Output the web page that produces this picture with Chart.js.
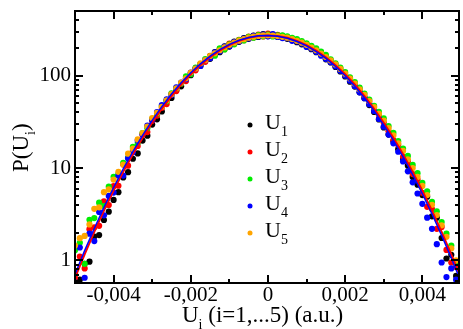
<!DOCTYPE html>
<html>
<head>
<meta charset="utf-8">
<script src="https://cdn.jsdelivr.net/npm/chart.js@4"></script>
<style>
  body { margin: 0; background: #fff; }
  canvas { display: block; }
</style>
</head>
<body>
<canvas id="chart" width="463" height="329"></canvas>
<script>
// histogram bins (a.u.)
const binX = [
  -0.005, -0.004875, -0.00475, -0.004625, -0.0045, -0.004375, -0.00425, -0.004125,
  -0.004, -0.003875, -0.00375, -0.003625, -0.0035, -0.003375, -0.00325, -0.003125,
  -0.003, -0.002875, -0.00275, -0.002625, -0.0025, -0.002375, -0.00225, -0.002125,
  -0.002, -0.001875, -0.00175, -0.001625, -0.0015, -0.001375, -0.00125, -0.001125,
  -0.001, -0.000875, -0.00075, -0.000625, -0.0005, -0.000375, -0.00025, -0.000125,
  0,
  0.000125, 0.00025, 0.000375, 0.0005, 0.000625, 0.00075, 0.000875, 0.001,
  0.001125, 0.00125, 0.001375, 0.0015, 0.001625, 0.00175, 0.001875, 0.002,
  0.002125, 0.00225, 0.002375, 0.0025, 0.002625, 0.00275, 0.002875, 0.003,
  0.003125, 0.00325, 0.003375, 0.0035, 0.003625, 0.00375, 0.003875, 0.004,
  0.004125, 0.00425, 0.004375, 0.0045, 0.004625, 0.00475, 0.004875, 0.005
];

// P(U_i) for each series
const u1 = [
  0.72, 0.62, 0.92, 0.97, 1.81, 1.88, 2.74, 3.37,
  4.52, 5.48, 7.92, 9.02, 12.6, 14.4, 19.8, 22.4, 29.5, 33.6,
  40.9, 53.9, 57.4, 69.6, 76.5, 93.5, 101, 119, 127, 144,
  152, 180, 179, 207, 206, 234, 232, 254, 250, 271, 262, 281, 268, 277, 264, 259, 250, 252, 230, 218, 218, 193, 179, 168, 150,
  139, 124, 111, 98, 86, 76, 66, 57, 48, 40.5,
  33.5, 27.5, 23, 19.5, 16, 12.5, 10.6, 8.0, 6.6, 5.1,
  4.9, 3.0, 2.9, 1.75, 1.05, 1.15, 0.68, 0.6
];
const u2 = [
  0.65, 1.10, 0.82, 2.18, 2.28, 2.37, 4.35, 3.97,
  6.38, 6.43, 10.9, 10.6, 15.4, 17.3, 22.7, 24.5, 32.4, 36.9,
  44.8, 49.2, 62.9, 68.0, 82.0, 87.3, 106, 114, 133, 141,
  164, 168, 193, 193, 222, 220, 244, 242, 264, 259, 278, 265, 284, 269, 276, 269, 260, 244, 242, 230, 208, 206, 189, 178, 162,
  145, 131, 118, 102, 93, 79, 71, 59, 52, 43,
  37.5, 31, 25, 20, 17.8, 13.2, 11.8, 8.6, 7.5, 5.4,
  3.8, 3.6, 2.2, 2.3, 1.3, 0.95, 0.85, 0.7
];
const u3 = [
  1.29, 1.55, 0.92, 2.75, 2.87, 4.22, 3.88, 6.29,
  8.04, 8.66, 11.4, 13.0, 16.9, 18.6, 23.8, 26.9, 33.9, 38.6,
  46.9, 52.7, 64.4, 72.9, 82.0, 97.9, 103.5, 122, 133, 151,
  162, 164, 197, 192, 218, 218, 242, 240, 262, 257, 274, 267, 278, 265, 272, 273, 266, 256, 248, 236, 224, 210, 197, 182, 168,
  150, 136, 122, 109, 96, 85, 74, 64, 55, 47,
  40.5, 34.5, 28.5, 24, 19.5, 16.2, 13.5, 10.8, 8.8, 6.9,
  5.6, 4.3, 3.4, 2.6, 1.95, 1.45, 0.95, 0.8
];
const u4 = [
  0.58, 1.38, 0.65, 1.95, 1.62, 3.35, 3.08, 4.99,
  5.43, 8.29, 8.29, 12.7, 14.8, 19.9, 23.2, 28.8, 33.1, 40.4,
  48.0, 55.2, 61.5, 74.6, 83.9, 91.4, 108, 119, 127, 147,
  154, 178, 183, 206, 208, 230, 234, 252, 252, 269, 264, 277, 266, 281, 262, 255, 254, 238, 234, 222, 204, 196, 181, 164, 152,
  140, 126, 113, 100, 88, 77, 66, 57, 49, 41.5,
  34, 28, 23, 18.5, 15, 11.8, 9.2, 7.0, 5.3, 4.1,
  2.9, 2.2, 1.5, 0.95, 0.66, 0.82, 0.62, 0.59
];
const u5 = [
  1.45, 1.74, 1.84, 2.45, 3.62, 3.76, 5.48, 5.87,
  7.5, 9.09, 10.9, 14.3, 16.2, 20.4, 23.8, 28.1, 34.7, 39.5,
  45.9, 53.9, 62.9, 72.9, 83.9, 93.5, 108, 119, 136, 147,
  163, 174, 188, 202, 215, 227, 239, 248, 257, 264, 269, 272, 273, 271, 268, 263, 257, 249, 238, 227, 215, 201, 188, 173, 159,
  146, 132, 118, 105, 93, 82, 71, 62, 53, 45.5,
  38.5, 32.5, 27, 22.5, 18.5, 15.3, 12.4, 10.0, 8.0, 6.4,
  5.1, 4.0, 3.1, 2.4, 1.8, 1.35, 1.0, 0.75
];

// gaussian fit curves
const fitX = [
  -0.005, -0.00475, -0.0045, -0.00425, -0.004, -0.00375, -0.0035, -0.00325, -0.003, -0.00275,
  -0.0025, -0.00225, -0.002, -0.00175, -0.0015, -0.00125, -0.001, -0.00075, -0.0005, -0.00025,
  0,
  0.00025, 0.0005, 0.00075, 0.001, 0.00125, 0.0015, 0.00175, 0.002, 0.00225, 0.0025,
  0.00275, 0.003, 0.00325, 0.0035, 0.00375, 0.004, 0.00425, 0.0045, 0.00475, 0.005
];
const fitRed = [
  0.646, 1.164, 2.035, 3.455, 5.69, 9.09, 14.09, 21.18, 30.9, 43.8,
  60.1, 80.1, 103.5, 129.8, 158, 186.6, 213.8, 237.6, 256.3, 268.2,
  272,
  268.2, 256.3, 237.6, 213.8, 186.6, 158, 129.8, 103.5, 80.1, 60.1,
  43.8, 30.9, 21.18, 14.09, 9.09, 5.69, 3.455, 2.035, 1.164, 0.646
];
const fitBlue = [
  0.711, 1.276, 2.22, 3.752, 6.15, 9.77, 15.08, 22.56, 32.75, 46.2,
  63.1, 83.6, 107.5, 134.2, 162.6, 191.1, 218.0, 241.1, 258.8, 269.5,
  272,
  266.9, 253.8, 234.1, 209.6, 182.2, 153.5, 125.5, 99.6, 76.7, 57.2,
  41.5, 29.15, 19.89, 13.17, 8.46, 5.27, 3.18, 1.865, 1.062, 0.587
];

const xTickLabels = [-0.004, -0.002, 0, 0.002, 0.004];
const xMinorTicks = [-0.003, -0.001, 0.001, 0.003];
const yTickLabels = [1, 10, 100];
const yMinorTicks = [0.6, 0.7, 0.8, 0.9, 2, 3, 4, 5, 6, 7, 8, 9, 20, 30, 40, 50, 60, 70, 80, 90, 200, 300, 400];

const seriesNames = ['1', '2', '3', '4', '5'];
const seriesColors = ['#000000', '#ff0000', '#00ee00', '#0000ff', '#ffa500'];
const series = [u1, u2, u3, u4, u5];

const FONT = '"Liberation Serif", "Times New Roman", serif';

function drawSub(ctx, base, sub, x, y, size, subSize) {
  ctx.font = size + 'px ' + FONT;
  ctx.fillText(base, x, y);
  const w = ctx.measureText(base).width;
  ctx.font = subSize + 'px ' + FONT;
  ctx.fillText(sub, x + w, y + size * 0.32);
  return w + ctx.measureText(sub).width;
}

const decorations = {
  id: 'decorations',
  afterDatasetsDraw(chart) {
    const { ctx, chartArea: a, scales: { x, y } } = chart;
    ctx.save();
    ctx.strokeStyle = '#000';
    ctx.lineWidth = 2;
    ctx.beginPath();
    const tx = (v, len) => {
      const p = Math.round(x.getPixelForValue(v));
      ctx.moveTo(p, a.bottom); ctx.lineTo(p, a.bottom - len);
      ctx.moveTo(p, a.top); ctx.lineTo(p, a.top + len);
    };
    const ty = (v, len) => {
      const p = Math.round(y.getPixelForValue(v));
      ctx.moveTo(a.left, p); ctx.lineTo(a.left + len, p);
      ctx.moveTo(a.right, p); ctx.lineTo(a.right - len, p);
    };
    xTickLabels.forEach(v => tx(v, 8));
    xMinorTicks.forEach(v => tx(v, 4));
    yTickLabels.forEach(v => ty(v, 8));
    yMinorTicks.forEach(v => ty(v, 4));
    ctx.stroke();
    ctx.strokeRect(a.left, a.top, a.right - a.left, a.bottom - a.top);
    ctx.restore();
  },
  afterDraw(chart) {
    const ctx = chart.ctx;
    ctx.save();
    ctx.fillStyle = '#000';
    ctx.textBaseline = 'alphabetic';
    ctx.textAlign = 'left';

    // x title
    let w = drawSub(ctx, 'U', 'i', 182, 322, 23, 14);
    ctx.font = '23px ' + FONT;
    ctx.fillText(' (i=1,...5) (a.u.)', 182 + w, 322);

    // y title
    ctx.save();
    ctx.translate(28, 172);
    ctx.rotate(-Math.PI / 2);
    ctx.font = '23px ' + FONT;
    ctx.fillText('P(', 0, 0);
    let off = ctx.measureText('P(').width;
    off += drawSub(ctx, 'U', 'i', off, 0, 23, 14);
    ctx.font = '23px ' + FONT;
    ctx.fillText(')', off, 0);
    ctx.restore();

    // legend
    seriesNames.forEach((name, k) => {
      const cy = 125 + 27 * k;
      ctx.fillStyle = seriesColors[k];
      ctx.beginPath();
      ctx.arc(250, cy, 2.5, 0, Math.PI * 2);
      ctx.fill();
      ctx.fillStyle = '#000';
      drawSub(ctx, 'U', name, 265, cy + 4, 22, 14);
    });
    ctx.restore();
  }
};

const datasets = [
  {
    type: 'line',
    data: fitX.map((v, i) => ({ x: v, y: fitRed[i] })),
    borderColor: '#ff0000', borderWidth: 2, pointRadius: 0, fill: false, order: 1
  },
  {
    type: 'line',
    data: fitX.map((v, i) => ({ x: v, y: fitBlue[i] })),
    borderColor: '#0000ff', borderWidth: 1.5, pointRadius: 0, fill: false, order: 0
  }
];
series.forEach((s, k) => {
  datasets.push({
    type: 'scatter',
    data: binX.map((v, i) => ({ x: v, y: s[i] })),
    backgroundColor: seriesColors[k],
    borderWidth: 0,
    pointRadius: 3.1,
    order: 6 - k
  });
});

new Chart(document.getElementById('chart'), {
  type: 'scatter',
  data: { datasets: datasets },
  options: {
    responsive: false,
    animation: false,
    devicePixelRatio: 1,
    layout: { padding: { top: 11, right: 0, left: 0, bottom: 0 } },
    plugins: { legend: { display: false }, tooltip: { enabled: false } },
    scales: {
      x: {
        type: 'linear', min: -0.005, max: 0.00495,
        grid: { display: false, drawTicks: false },
        border: { display: false },
        afterBuildTicks: s => { s.ticks = xTickLabels.map(v => ({ value: v })); },
        afterFit: s => { s.height = 46; s.paddingLeft = 0; s.paddingRight = 0; },
        ticks: {
          padding: 0, color: '#000', autoSkip: false, maxRotation: 0,
          font: { family: 'Liberation Serif', size: 21 },
          callback: v => v === 0 ? '0' : v.toFixed(3).replace('.', ',')
        }
      },
      y: {
        type: 'logarithmic', min: 0.57, max: 500,
        grid: { display: false, drawTicks: false },
        border: { display: false },
        afterBuildTicks: s => { s.ticks = yTickLabels.map(v => ({ value: v })); },
        afterFit: s => { s.width = 75; s.paddingTop = 0; s.paddingBottom = 0; },
        ticks: {
          padding: 4, color: '#000', autoSkip: false,
          font: { family: 'Liberation Serif', size: 21 },
          callback: v => String(v)
        }
      }
    }
  },
  plugins: [decorations]
});
</script>
</body>
</html>
